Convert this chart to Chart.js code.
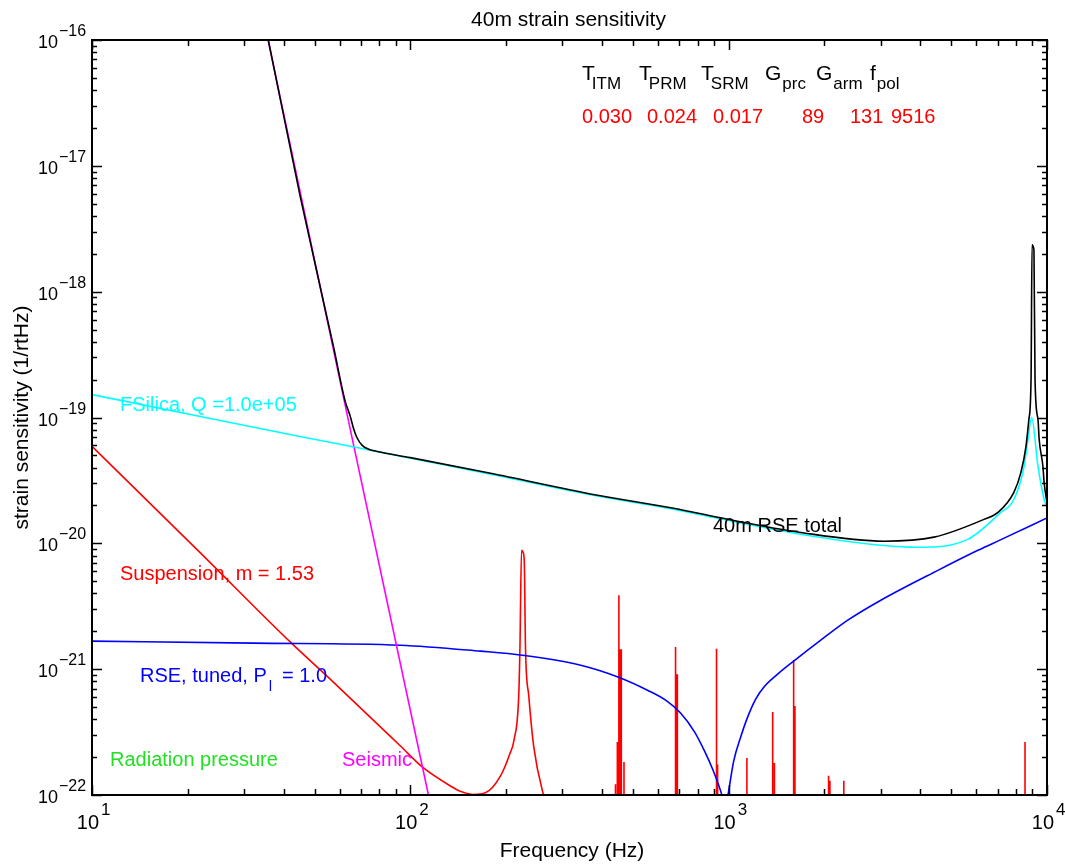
<!DOCTYPE html>
<html><head><meta charset="utf-8">
<script src="https://cdn.jsdelivr.net/npm/chart.js@4.4.1/dist/chart.umd.min.js"></script>
<style>html,body{margin:0;padding:0;background:#fff;}canvas{display:block;}</style>
</head><body>
<canvas id="c" width="1065" height="867"></canvas>
<script>
// ---------- data ----------
const totalFreq  = [35.8, 45.1, 57.3, 62.4, 64.7, 66.2, 68, 70.6, 74, 78.7, 100, 178.6, 387, 671, 923, 1683, 3070, 4415, 6340, 7015, 7870, 8280, 8590, 8770, 8910, 8975, 9100, 9170, 9370, 9450, 9710, 9800, 10000];
const totalValue = [1.0e-16, 5.7e-18, 3.7e-19, 1.35e-19, 1.03e-19, 8.3e-20, 6.9e-20, 6.0e-20, 5.6e-20, 5.37e-20, 4.8e-20, 3.6e-20, 2.41e-20, 1.9e-20, 1.61e-20, 1.22e-20, 1.04e-20, 1.12e-20, 1.55e-20, 1.76e-20, 2.54e-20, 3.66e-20, 5.9e-20, 9.6e-20, 2.0e-19, 2.36e-18, 2.15e-18, 2.0e-19, 9.6e-20, 6.68e-20, 4.08e-20, 3.0e-20, 2.11e-20];

const silicaFreq  = [10, 21.9, 45, 73, 100, 178.6, 387, 671, 923, 1683, 3070, 3927, 5650, 7160, 7870, 8470, 8710, 8950, 9370, 9800, 10000];
const silicaValue = [1.52e-19, 1.02e-19, 7.06e-20, 5.57e-20, 4.75e-20, 3.55e-20, 2.38e-20, 1.87e-20, 1.58e-20, 1.18e-20, 9.6e-21, 9.3e-21, 1.08e-20, 1.76e-20, 2.23e-20, 4.08e-20, 6.68e-20, 1.0e-19, 4.08e-20, 2.23e-20, 1.94e-20];

const seismicFreq  = [33, 66.2, 114, 120];
const seismicValue = [2.6e-16, 6.2e-20, 1.0e-22, 5.5e-23];

const suspFreq  = [10, 21.9, 42, 57.3, 93.1, 109, 133.6, 145, 158, 172, 192, 205, 212, 219, 221, 223.5, 226, 228, 230, 235.6, 244, 262, 275];
const suspValue = [5.9e-20, 8.4e-21, 1.64e-21, 7.9e-22, 2.45e-22, 1.67e-22, 1.18e-22, 1.06e-22, 1.01e-22, 1.04e-22, 1.42e-22, 2.1e-22, 2.78e-22, 6.1e-22, 1.5e-21, 8.8e-21, 8.5e-21, 7.2e-21, 1.5e-21, 6.1e-22, 2.45e-22, 1.0e-22, 7e-23];

const resonanceFreq = [441, 447, 452, 457, 460, 469, 681, 686, 690, 916, 923, 1141, 1375, 1392, 1600, 1615, 2060, 2080, 2300, 8530];
const resonanceTop  = [1.22e-22, 2.64e-22, 3.86e-21, 1.44e-21, 1.44e-21, 1.83e-22, 1.5e-21, 9.1e-22, 9.1e-22, 1.45e-21, 1.75e-22, 1.97e-22, 4.56e-22, 1.8e-22, 1.18e-21, 5.1e-22, 1.42e-22, 1.3e-22, 1.3e-22, 2.64e-22];
const resonanceFloor = 5e-23;

const rseFreq  = [10, 32.1, 93, 166, 225, 343, 451, 556, 634, 706, 782, 840, 890, 930, 957, 979, 1000, 1037, 1091, 1147, 1216, 1289, 1437, 1601, 1947, 2367, 3006, 4542, 6067, 7166, 10000];
const rseValue = [1.67e-21, 1.61e-21, 1.55e-21, 1.39e-21, 1.29e-21, 1.076e-21, 8.64e-22, 6.81e-22, 5.67e-22, 4.48e-22, 3.16e-22, 2.23e-22, 1.61e-22, 1.2e-22, 9.6e-23, 8.0e-23, 1.08e-22, 1.86e-22, 2.89e-22, 4.16e-22, 5.78e-22, 7.19e-22, 9.3e-22, 1.16e-21, 1.7e-21, 2.45e-21, 3.53e-21, 6.1e-21, 8.8e-21, 1.07e-20, 1.59e-20];

const xDecades = [1, 2, 3, 4];
const yDecades = [-16, -17, -18, -19, -20, -21, -22];

const paramNames  = [['T','ITM'], ['T','PRM'], ['T','SRM'], ['G','prc'], ['G','arm'], ['f','pol']];
const paramValues = ['0.030', '0.024', '0.017', '89', '131', '9516'];

// ---------- build datasets ----------
const pts = (fs, vs) => fs.map((f, i) => ({x: f, y: vs[i]}));
const spikePts = [];
resonanceFreq.forEach((f, i) => {
  spikePts.push({x: f, y: resonanceFloor}, {x: f, y: resonanceTop[i]}, {x: f, y: resonanceFloor});
});
const line = (data, color, w, smooth) => ({
  data, borderColor: color, borderWidth: w, showLine: true, pointRadius: 0,
  tension: smooth ? 0.4 : 0, cubicInterpolationMode: smooth ? 'monotone' : 'default',
  fill: false, clip: 0
});

const FONT = "'Liberation Sans', Arial, Helvetica, sans-serif";

const textPlugin = {
  id: 'frameAndText',
  afterDraw(chart) {
    const ctx = chart.ctx, xs = chart.scales.x, ys = chart.scales.y, a = chart.chartArea;
    ctx.save();
    // frame
    ctx.strokeStyle = '#000'; ctx.lineWidth = 2;
    ctx.strokeRect(a.left, a.top, a.right - a.left, a.bottom - a.top);
    // ticks
    ctx.lineWidth = 1.5;
    ctx.beginPath();
    for (let d = 1; d <= 4; d++) {
      for (let m = 1; m <= 9; m++) {
        if (d === 4 && m > 1) break;
        const px = Math.round(xs.getPixelForValue(m * Math.pow(10, d))) + 0.5;
        const L = m === 1 ? 10 : 6;
        ctx.moveTo(px, a.bottom); ctx.lineTo(px, a.bottom - L);
        ctx.moveTo(px, a.top); ctx.lineTo(px, a.top + L);
      }
    }
    for (let e = -22; e <= -16; e++) {
      for (let m = 1; m <= 9; m++) {
        if (e === -16 && m > 1) break;
        const py = Math.round(ys.getPixelForValue(m * Math.pow(10, e))) + 0.5;
        const L = m === 1 ? 10 : 5;
        ctx.moveTo(a.left, py); ctx.lineTo(a.left + L, py);
        ctx.moveTo(a.right, py); ctx.lineTo(a.right - L, py);
      }
    }
    ctx.stroke();

    ctx.fillStyle = '#000';
    ctx.textBaseline = 'alphabetic';
    // y tick labels
    yDecades.forEach(e => {
      const py = ys.getPixelForValue(Math.pow(10, e));
      ctx.font = '18px ' + FONT; ctx.textAlign = 'right';
      ctx.fillText('10', 58, py + 8);
      ctx.font = '16px ' + FONT; ctx.textAlign = 'left';
      ctx.fillText('\u2212' + Math.abs(e), 59, py - 4);
    });
    // x tick labels
    xDecades.forEach(d => {
      const px = xs.getPixelForValue(Math.pow(10, d));
      ctx.font = '20px ' + FONT; ctx.textAlign = 'right';
      ctx.fillText('10', px + 7, 829);
      ctx.font = '17px ' + FONT; ctx.textAlign = 'left';
      ctx.fillText(String(d), px + 9, 815);
    });
    // titles
    ctx.textAlign = 'center';
    ctx.font = '21px ' + FONT;
    ctx.fillText('40m strain sensitivity', (a.left + a.right) / 2 - 1, 26);
    ctx.fillText('Frequency (Hz)', 572, 857);
    ctx.save();
    ctx.translate(28, (a.top + a.bottom) / 2);
    ctx.rotate(-Math.PI / 2);
    ctx.fillText('strain sensitivity (1/rtHz)', 0, 0);
    ctx.restore();

    // parameter header
    const px0 = [582, 639, 701, 765, 816, 870];
    ctx.textAlign = 'left';
    paramNames.forEach((p, i) => {
      ctx.fillStyle = '#000';
      ctx.font = '21px ' + FONT;
      ctx.fillText(p[0], px0[i], 80);
      const w = ctx.measureText(p[0]).width;
      ctx.font = '17px ' + FONT;
      ctx.fillText(p[1], px0[i] + w - (p[0] === 'T' ? 3 : -1), 89);
    });
    const vx = [582, 647, 713, 802, 850, 891];
    ctx.fillStyle = '#ff0000'; ctx.font = '20px ' + FONT;
    paramValues.forEach((v, i) => ctx.fillText(v, vx[i], 123));

    // curve annotations
    ctx.font = '20px ' + FONT;
    ctx.fillStyle = '#00ffff'; ctx.fillText('FSilica, Q =1.0e+05', 120, 411);
    ctx.fillStyle = '#ff0000'; ctx.fillText('Suspension, m = 1.53', 120, 580);
    ctx.fillStyle = '#0000ff'; ctx.fillText('RSE, tuned, P', 140, 682);
    let w = ctx.measureText('RSE, tuned, P').width;
    ctx.font = '15px ' + FONT; ctx.fillText('l', 140 + w + 2, 691);
    ctx.font = '20px ' + FONT; ctx.fillText('= 1.0', 282, 682);
    ctx.fillStyle = '#22e022'; ctx.fillText('Radiation pressure', 110, 766);
    ctx.fillStyle = '#ff00ff'; ctx.fillText('Seismic', 342, 766);
    ctx.fillStyle = '#000'; ctx.fillText('40m RSE total', 713, 532);
    ctx.restore();
  }
};

new Chart(document.getElementById('c'), {
  type: 'scatter',
  data: {
    datasets: [
      line(pts(totalFreq, totalValue), '#000000', 1.6, true),
      line(pts(silicaFreq, silicaValue), '#00ffff', 1.6, true),
      line(pts(seismicFreq, seismicValue), '#ff00ff', 1.6, false),
      line(pts(rseFreq, rseValue), '#0000ff', 1.6, true),
      line(pts(suspFreq, suspValue), '#ff0000', 1.6, true),
      line(spikePts, '#ff0000', 1.6, false)
    ]
  },
  options: {
    responsive: false,
    animation: false,
    devicePixelRatio: 1,
    layout: {padding: {left: 92, right: 18, top: 40, bottom: 72}},
    plugins: {legend: {display: false}, tooltip: {enabled: false}, title: {display: false}},
    scales: {
      x: {type: 'logarithmic', min: 10, max: 10000, display: false},
      y: {type: 'logarithmic', min: 1e-22, max: 1e-16, display: false}
    }
  },
  plugins: [textPlugin]
});
</script>
</body></html>
